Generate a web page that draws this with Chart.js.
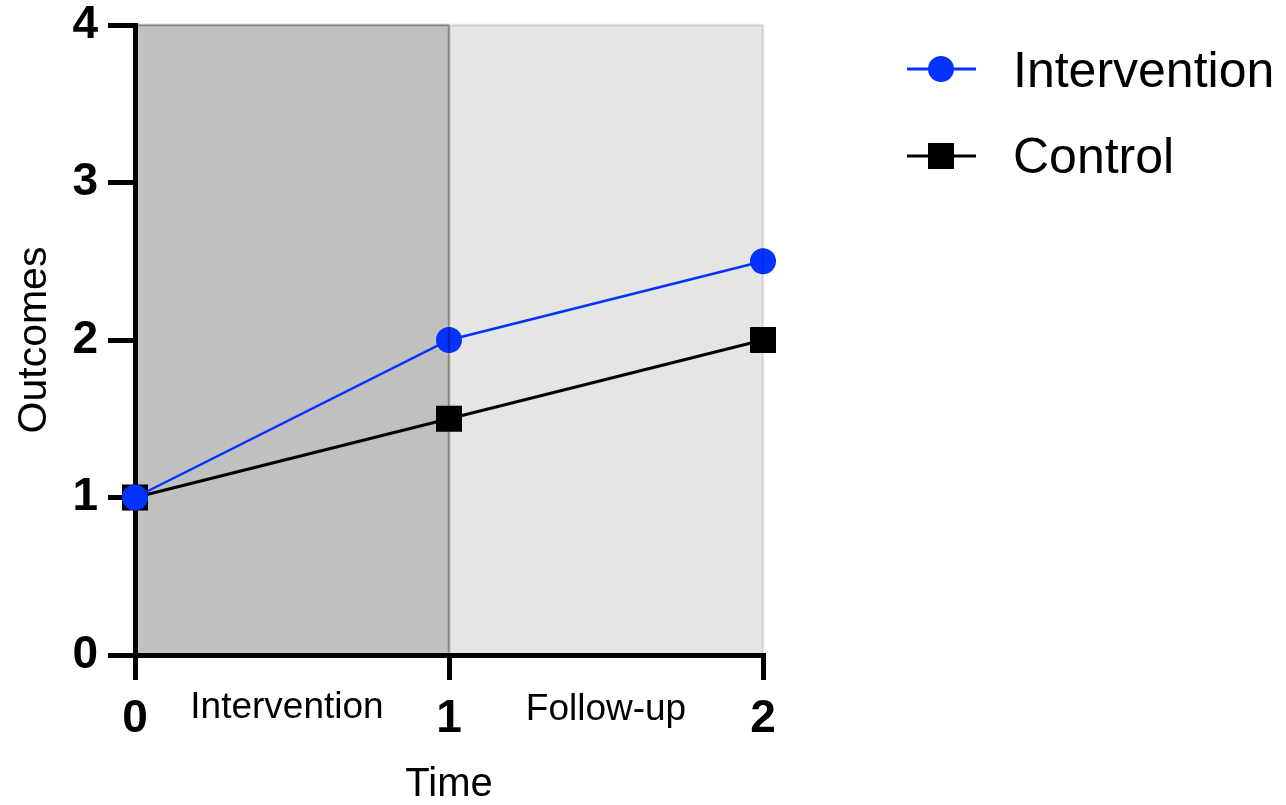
<!DOCTYPE html>
<html>
<head>
<meta charset="utf-8">
<script src="https://cdn.jsdelivr.net/npm/chart.js@4/dist/chart.umd.min.js"></script>
<style>
  html, body { margin: 0; padding: 0; background: #fff; }
  canvas { display: block; }
</style>
</head>
<body>
<canvas id="c" width="1286" height="805"></canvas>
<script>
const timePoints = [0, 1, 2];
const interventionValues = [1, 2, 2.5];
const controlValues = [1, 1.5, 2];
const xTicks = [0, 1, 2];
const yTicks = [0, 1, 2, 3, 4];
const phases = [
  { label: 'Intervention', from: 0, to: 1 },
  { label: 'Follow-up', from: 1, to: 2 }
];
const seriesLabels = ['Intervention', 'Control'];

const FONT = "'Liberation Sans', Arial, Helvetica, sans-serif";
const BLUE = '#0433ff';
const phaseFills = ['#c0c0c0', '#e5e5e5'];
const phaseBorders = ['rgba(0,0,0,0.3)', 'rgba(0,0,0,0.1)'];

const shadingPlugin = {
  id: 'shading',
  beforeDraw(chart) {
    const { ctx, chartArea: a, scales: { x } } = chart;
    ctx.save();
    phases.forEach((p, i) => {
      const x0 = x.getPixelForValue(p.from), x1 = x.getPixelForValue(p.to);
      ctx.fillStyle = phaseFills[i];
      ctx.fillRect(x0, a.top, x1 - x0, a.bottom - a.top);
    });
    ctx.restore();
  },
  afterDatasetsDraw(chart) {
    const { ctx, chartArea: a, scales: { x } } = chart;
    ctx.save();
    ctx.lineWidth = 2.5;
    phases.forEach((p, i) => {
      const x0 = x.getPixelForValue(p.from) + 2.5, x1 = x.getPixelForValue(p.to);
      ctx.strokeStyle = phaseBorders[i];
      ctx.beginPath();
      ctx.moveTo(x0, a.top);
      ctx.lineTo(x1, a.top);
      ctx.lineTo(x1, a.bottom - 2.5);
      ctx.stroke();
    });
    // phase labels
    ctx.fillStyle = '#000';
    ctx.font = '37px ' + FONT;
    ctx.textAlign = 'center';
    ctx.textBaseline = 'alphabetic';
    phases.forEach((p, i) => {
      const xm = x.getPixelForValue((p.from + p.to) / 2) - (i === 0 ? 5 : 0);
      ctx.fillText(p.label, xm, a.bottom + 63 + (i === 0 ? 0 : 2));
    });
    ctx.restore();
  },
  afterDraw(chart) {
    const { ctx } = chart;
    ctx.save();
    const rows = [
      { y: 69, ds: chart.data.datasets[0], base: 87 },
      { y: 156, ds: chart.data.datasets[1], base: 173 }
    ];
    rows.forEach((r) => {
      ctx.strokeStyle = r.ds.borderColor;
      ctx.lineWidth = 3;
      ctx.beginPath();
      ctx.moveTo(907, r.y);
      ctx.lineTo(976, r.y);
      ctx.stroke();
      ctx.fillStyle = r.ds.backgroundColor;
      if (r.ds.pointStyle === 'circle') {
        ctx.beginPath();
        ctx.arc(941, r.y, 13, 0, Math.PI * 2);
        ctx.fill();
      } else {
        ctx.fillRect(941 - 13, r.y - 13, 26, 26);
      }
      ctx.fillStyle = '#000';
      ctx.font = '50px ' + FONT;
      ctx.textAlign = 'left';
      ctx.textBaseline = 'alphabetic';
      ctx.fillText(r.ds.label, 1013, r.base);
    });
    ctx.restore();
  }
};

new Chart(document.getElementById('c'), {
  type: 'line',
  data: {
    datasets: [
      {
        label: seriesLabels[0],
        data: timePoints.map((t, i) => ({ x: t, y: interventionValues[i] })),
        borderColor: BLUE,
        backgroundColor: BLUE,
        borderWidth: 2.5,
        pointStyle: 'circle',
        pointRadius: 13,
        pointHoverRadius: 13,
        pointBorderWidth: 0,
        clip: false
      },
      {
        label: seriesLabels[1],
        data: timePoints.map((t, i) => ({ x: t, y: controlValues[i] })),
        borderColor: '#000',
        backgroundColor: '#000',
        borderWidth: 3,
        pointStyle: 'rect',
        pointRadius: 18.4,
        pointHoverRadius: 18.4,
        pointBorderWidth: 0,
        clip: false
      }
    ]
  },
  options: {
    responsive: false,
    animation: false,
    events: [],
    layout: { padding: { top: 25, right: 523, bottom: 0, left: 0 } },
    plugins: { legend: { display: false }, tooltip: { enabled: false } },
    scales: {
      x: {
        type: 'linear',
        min: 0, max: 2,
        afterBuildTicks(s) { s.ticks = xTicks.map(v => ({ value: v })); },
        afterFit(s) { s.height = 150; s.paddingLeft = 0; s.paddingRight = 0; },
        ticks: {
          stepSize: 1,
          color: '#000',
          padding: 12,
          font: { size: 46, weight: 'bold', family: FONT },
          maxRotation: 0
        },
        grid: { drawOnChartArea: false, drawTicks: true, tickLength: 25, lineWidth: 5, color: '#000' },
        border: { display: true, width: 5, color: '#000' },
        title: {
          display: true, text: 'Time', color: '#000',
          font: { size: 40, family: FONT, lineHeight: 1 },
          padding: { top: 0, bottom: 0 }
        }
      },
      y: {
        type: 'linear',
        min: 0, max: 4,
        afterBuildTicks(s) { s.ticks = yTicks.map(v => ({ value: v })); },
        afterFit(s) { s.width = 135; s.paddingTop = 0; s.paddingBottom = 0; },
        ticks: {
          stepSize: 1,
          color: '#000',
          padding: 10,
          font: { size: 46, weight: 'bold', family: FONT }
        },
        grid: { drawOnChartArea: false, drawTicks: true, tickLength: 27, lineWidth: 5, color: '#000' },
        border: { display: true, width: 5, color: '#000' },
        title: {
          display: true, text: 'Outcomes', color: '#000',
          font: { size: 41, family: FONT, lineHeight: 1 },
          padding: { top: 14, bottom: 0 }
        }
      }
    }
  },
  plugins: [shadingPlugin]
});
</script>
</body>
</html>
